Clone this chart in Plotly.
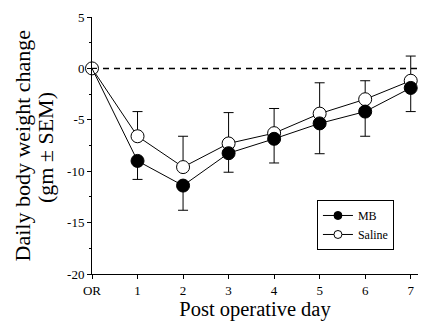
import plotly.graph_objects as go

days = [0, 1, 2, 3, 4, 5, 6, 7]
tick_labels = ["OR", "1", "2", "3", "4", "5", "6", "7"]

mb_mean = [0, -9.0, -11.4, -8.25, -6.85, -5.35, -4.2, -1.9]
mb_lower = [0, -10.8, -13.8, -10.1, -9.2, -8.3, -6.6, -4.2]

saline_mean = [0, -6.6, -9.6, -7.3, -6.3, -4.4, -3.0, -1.2]
saline_upper = [0, -4.2, -6.6, -4.3, -3.9, -1.4, -1.2, 1.2]

FONT = "Liberation Serif"
ms = 13

mb_minus = [m - l for m, l in zip(mb_mean, mb_lower)]
sal_plus = [u - m for m, u in zip(saline_mean, saline_upper)]
zeros = [0] * len(days)

fig = go.Figure()

fig.add_trace(go.Scatter(
    x=days, y=saline_mean, name="Saline", mode="lines+markers",
    line=dict(color="black", width=1),
    marker=dict(symbol="circle", size=ms, color="white", line=dict(color="black", width=1)),
    error_y=dict(type="data", symmetric=False, array=sal_plus, arrayminus=zeros,
                 color="black", thickness=1, width=5),
    cliponaxis=False, showlegend=False,
))

fig.add_trace(go.Scatter(
    x=days, y=mb_mean, name="MB", mode="lines+markers",
    line=dict(color="black", width=1),
    marker=dict(symbol="circle", size=[0] + [ms] * (len(days) - 1), color="black",
                opacity=1, line=dict(color="black", width=1)),
    error_y=dict(type="data", symmetric=False, array=zeros, arrayminus=mb_minus,
                 color="black", thickness=1, width=5),
    cliponaxis=False, showlegend=False,
))

# legend-only entries with small markers, as in the reference legend
fig.add_trace(go.Scatter(
    x=[None], y=[None], name="MB", mode="lines+markers",
    line=dict(color="black", width=1),
    marker=dict(symbol="circle", size=8, color="black", line=dict(color="black", width=1)),
    legendrank=1,
))
fig.add_trace(go.Scatter(
    x=[None], y=[None], name="Saline", mode="lines+markers",
    line=dict(color="black", width=1),
    marker=dict(symbol="circle", size=8, color="white", line=dict(color="black", width=1)),
    legendrank=2,
))

fig.add_shape(type="line", xref="paper", yref="y", x0=0, x1=1, y0=0, y1=0,
              line=dict(color="black", width=1.5, dash="6px,5px"), layer="below")

# page body has an 8px default margin; compensate so the plot sits where it should
fig.update_layout(
    width=425, height=327,
    margin=dict(l=84, r=15, t=9, b=61, autoexpand=False),
    plot_bgcolor="white", paper_bgcolor="white",
    font=dict(family=FONT, color="black", size=12),
    showlegend=True,
    legend=dict(x=0.69, y=0.288, xanchor="left", yanchor="top",
                bordercolor="black", borderwidth=1, bgcolor="white",
                font=dict(family=FONT, size=12, color="black"), itemwidth=30,
                tracegroupgap=0),
    xaxis=dict(range=[0, 7.16], tickvals=days, ticktext=tick_labels,
               showline=True, linecolor="black", linewidth=1,
               ticks="outside", ticklen=4, tickcolor="black", showgrid=False,
               zeroline=False, tickfont=dict(family=FONT, size=13, color="black"),
               title=dict(text="Post operative day",
                          font=dict(family=FONT, size=20.5, color="black"), standoff=5)),
    yaxis=dict(range=[-20, 5], tickvals=[5, 0, -5, -10, -15, -20],
               ticktext=["5", "0", "-5", "-10", "-15", "-20"],
               showline=True, linecolor="black", linewidth=1,
               ticks="outside", ticklen=4, tickcolor="black", showgrid=False,
               zeroline=False, tickfont=dict(family=FONT, size=13, color="black"),
               minor=dict(tickvals=[2.5, -2.5, -7.5, -12.5, -17.5], ticks="outside",
                          ticklen=2, tickcolor="black")),
    annotations=[
        dict(text="Daily body weight change", xref="paper", yref="paper",
             x=(22 - 92) / 326, y=0.5, textangle=-90, showarrow=False,
             xanchor="center", yanchor="middle",
             font=dict(family=FONT, size=22, color="black")),
        dict(text="(gm ± SEM)", xref="paper", yref="paper",
             x=(45 - 92) / 326, y=0.49, textangle=-90, showarrow=False,
             xanchor="center", yanchor="middle",
             font=dict(family=FONT, size=22, color="black")),
    ],
)

fig.write_html("out.html")
